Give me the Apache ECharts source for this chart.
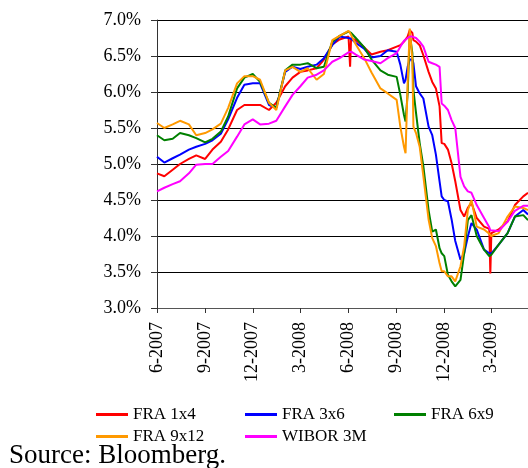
<!DOCTYPE html>
<html>
<head>
<meta charset="utf-8">
<script src="https://cdn.jsdelivr.net/npm/echarts@6/dist/echarts.min.js"></script>
<style>
html, body { margin: 0; padding: 0; background: #fff; }
#chart { width: 528px; height: 468px; }
</style>
</head>
<body>
<div id="chart"></div>
<script>
// observation dates (denser around the autumn 2008 crash)
var dates = [
  '2007-06-01','2007-06-15','2007-07-01','2007-07-15','2007-08-01','2007-08-15',
  '2007-09-01','2007-09-15','2007-10-01','2007-10-15','2007-11-01','2007-11-15',
  '2007-12-01','2007-12-15','2008-01-01','2008-01-15','2008-02-01','2008-02-15',
  '2008-03-01','2008-03-15','2008-04-01','2008-04-15','2008-05-01','2008-05-15',
  '2008-06-01','2008-06-04','2008-06-06','2008-06-15','2008-07-01','2008-07-15',
  '2008-08-01','2008-08-15','2008-09-01','2008-09-08','2008-09-15','2008-09-18',
  '2008-09-22','2008-09-26','2008-10-01','2008-10-03','2008-10-08','2008-10-15',
  '2008-10-22','2008-11-01','2008-11-08','2008-11-15','2008-11-22','2008-11-26',
  '2008-12-01','2008-12-08','2008-12-15','2008-12-22','2009-01-01','2009-01-08',
  '2009-01-15','2009-01-22','2009-02-01','2009-02-15','2009-02-25','2009-02-27',
  '2009-03-01','2009-03-15','2009-04-01','2009-04-15','2009-05-01','2009-05-10'
];

var fra1x4 = [
  4.87,4.83,4.92,5.00,5.07,5.12,5.07,5.20,5.31,5.48,5.75,5.82,
  5.82,5.82,5.75,5.85,6.08,6.20,6.28,6.30,6.33,6.45,6.66,6.73,
  6.77,6.35,6.75,6.72,6.62,6.52,6.56,6.58,6.63,6.65,6.70,6.72,
  6.77,6.86,6.82,6.72,6.70,6.65,6.51,6.28,6.14,6.05,5.80,5.29,
  5.28,5.20,5.01,4.76,4.36,4.27,4.39,4.46,4.25,4.13,4.10,3.48,
  4.04,4.09,4.20,4.43,4.55,4.60
];
var fra3x6 = [
  5.10,5.02,5.08,5.13,5.20,5.24,5.28,5.33,5.42,5.62,5.92,6.10,
  6.12,6.12,5.82,5.78,6.28,6.35,6.32,6.35,6.38,6.47,6.65,6.77,
  6.75,6.75,6.74,6.68,6.60,6.48,6.50,6.58,6.56,6.38,6.12,6.17,
  6.35,6.45,6.45,6.40,6.08,5.98,5.91,5.52,5.40,5.13,4.76,4.55,
  4.50,4.48,4.23,3.93,3.67,3.76,3.99,4.18,4.09,3.81,3.76,3.76,
  3.76,3.88,4.04,4.27,4.36,4.30
];
var fra6x9 = [
  5.40,5.33,5.35,5.43,5.40,5.36,5.30,5.35,5.45,5.66,6.05,6.20,
  6.25,6.14,5.85,5.78,6.30,6.38,6.38,6.40,6.33,6.35,6.70,6.78,
  6.84,6.83,6.82,6.75,6.62,6.45,6.30,6.24,6.21,5.96,5.68,5.59,
  5.98,6.81,6.54,6.03,5.71,5.29,4.97,4.36,4.06,4.09,3.83,3.76,
  3.72,3.46,3.37,3.30,3.39,3.76,4.22,4.29,4.00,3.81,3.72,3.72,
  3.74,3.88,4.04,4.27,4.29,4.22
];
var fra9x12 = [
  5.57,5.50,5.55,5.60,5.55,5.40,5.43,5.48,5.56,5.78,6.12,6.22,
  6.22,6.17,5.85,5.75,6.30,6.35,6.28,6.33,6.17,6.25,6.72,6.78,
  6.85,6.82,6.80,6.66,6.47,6.27,6.05,5.98,5.89,5.52,5.24,5.15,
  6.12,6.88,6.45,5.52,5.43,5.24,4.83,4.23,3.97,3.86,3.62,3.51,
  3.51,3.44,3.44,3.37,3.58,3.86,4.36,4.50,4.13,4.09,4.03,4.02,
  4.00,4.04,4.27,4.41,4.39,4.36
];
var wibor3m = [
  4.62,4.67,4.72,4.76,4.87,4.99,5.00,5.00,5.10,5.18,5.38,5.55,
  5.62,5.55,5.56,5.60,5.80,5.96,6.08,6.20,6.24,6.30,6.42,6.47,
  6.55,6.56,6.56,6.52,6.45,6.43,6.40,6.47,6.54,6.63,6.71,6.73,
  6.75,6.77,6.77,6.76,6.75,6.70,6.63,6.42,6.40,6.38,6.35,5.84,
  5.81,5.75,5.61,5.50,4.82,4.69,4.62,4.60,4.43,4.25,4.12,4.08,
  4.06,4.07,4.20,4.35,4.42,4.42
];

var seriesNames = ['FRA 1x4', 'FRA 3x6', 'FRA 6x9', 'FRA 9x12', 'WIBOR 3M'];
var seriesColors = ['#ff0000', '#0000ff', '#008000', '#ff9900', '#ff00ff'];
var tickDates = ['2007-06-01','2007-09-01','2007-12-01','2008-03-01','2008-06-01',
  '2008-09-01','2008-12-01','2009-03-01'];

function ts(s) {
  var p = s.split('-');
  return new Date(+p[0], +p[1] - 1, +p[2]).getTime();
}

var values = [fra1x4, fra3x6, fra6x9, fra9x12, wibor3m];
var tickValues = tickDates.map(ts);
var serif = 'Liberation Serif';

var chart = echarts.init(document.getElementById('chart'));

// legend items placed one by one so the columns line up
var legendPos = [[96, 406], [245, 406], [394, 406], [96, 428], [245, 428]];
var legends = seriesNames.map(function (name, i) {
  return {
    data: [name],
    left: legendPos[i][0],
    top: legendPos[i][1],
    padding: 0,
    icon: 'rect',
    itemWidth: 32,
    itemHeight: 3,
    itemGap: 0,
    selectedMode: false,
    textStyle: { fontFamily: serif, fontSize: 17, color: '#000' }
  };
});

chart.setOption({
  animation: false,
  backgroundColor: '#fff',
  grid: { left: 157, right: 0, top: 20, bottom: 160 },
  legend: legends,
  xAxis: {
    type: 'value',
    min: ts('2007-06-01'),
    max: ts('2009-05-10'),
    axisLine: { lineStyle: { color: '#555', width: 1 } },
    axisTick: { show: true, length: 5, customValues: tickValues, lineStyle: { color: '#333' } },
    axisLabel: {
      customValues: tickValues,
      rotate: 90,
      margin: 14,
      fontFamily: serif,
      fontSize: 18,
      color: '#000',
      formatter: function (v) {
        var d = new Date(v);
        return (d.getMonth() + 1) + '-' + d.getFullYear();
      }
    },
    splitLine: { show: false }
  },
  yAxis: {
    type: 'value',
    min: 3,
    max: 7,
    interval: 0.5,
    axisLine: { show: true, lineStyle: { color: '#333', width: 1 } },
    axisTick: { show: true, length: 6, lineStyle: { color: '#333' } },
    axisLabel: {
      margin: 16,
      fontFamily: serif,
      fontSize: 18,
      color: '#000',
      formatter: function (v) { return v.toFixed(1) + '%'; }
    },
    splitLine: { show: true, lineStyle: { color: '#000', width: 1 } }
  },
  series: seriesNames.map(function (name, i) {
    return {
      name: name,
      type: 'line',
      showSymbol: false,
      color: seriesColors[i],
      lineStyle: { width: 2, color: seriesColors[i] },
      data: dates.map(function (d, j) { return [ts(d), values[i][j]]; })
    };
  }),
  graphic: [{
    type: 'text',
    left: 9,
    top: 442,
    style: { text: 'Source: Bloomberg.', font: '27px "Liberation Serif"', fill: '#000' }
  }]
});
</script>
</body>
</html>
